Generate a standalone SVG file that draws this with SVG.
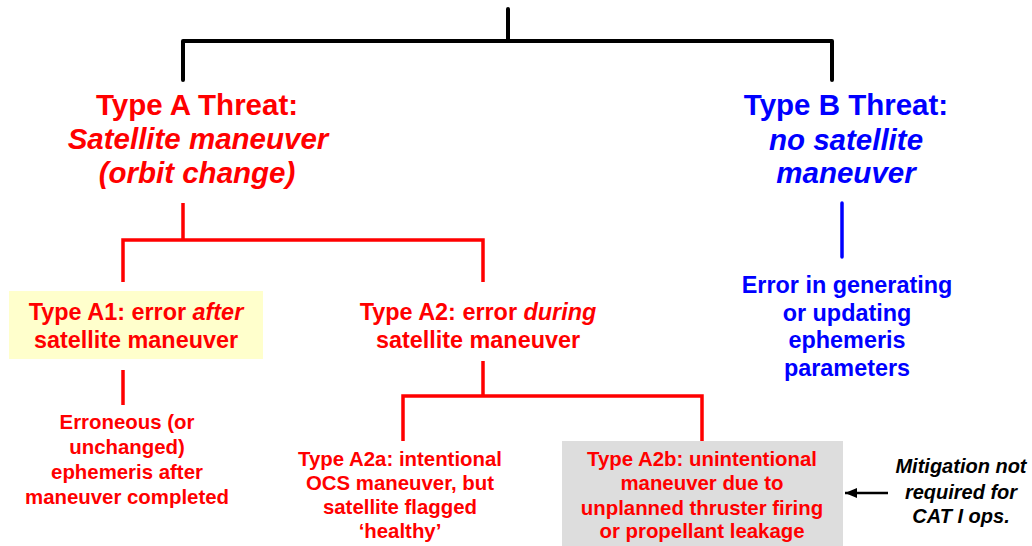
<svg xmlns="http://www.w3.org/2000/svg" width="1032" height="546" viewBox="0 0 1032 546">
<defs>
<style>
text{font-family:"Liberation Sans",Arial,sans-serif;font-weight:bold;text-anchor:middle}
.red{fill:#FF0000}
.blue{fill:#0000FF}
.blk{fill:#000000}
.t28{font-size:29.5px}
.t23{font-size:23.4px}
.t20{font-size:20.4px}
.t19{font-size:20px}
.it{font-style:italic}
.lk{fill:none;stroke:#000;stroke-width:4;stroke-linecap:round;stroke-linejoin:round}
.lr{fill:none;stroke:#FF0000;stroke-width:3.5;stroke-linejoin:miter}
.lb{fill:none;stroke:#0000FF;stroke-width:3.5;stroke-linecap:round}
</style>
<marker id="ah" markerWidth="12" markerHeight="10" refX="12" refY="5" orient="auto" markerUnits="userSpaceOnUse">
<path d="M0,0 L12,5 L0,10 Z" fill="#000"/>
</marker>
</defs>
<rect width="1032" height="546" fill="#fff"/>
<g id="connectors">
<path class="lk" d="M508,9 V41 M183,80 V41 H832 V80"/>
<path class="lr" d="M183,203 V240 M123,282 V240 H483 V282"/>
<path class="lr" d="M123,370 V405"/>
<path class="lr" d="M483,361 V396 M403,441 V396 H702 V441"/>
<path class="lb" d="M842,203 V257"/>
<line x1="888" y1="493" x2="845" y2="493" stroke="#000" stroke-width="2.5" marker-end="url(#ah)"/>
</g>
<g id="typeA">
<text class="red t28" x="197" y="115">Type A Threat:</text>
<text class="red t28 it" x="198" y="149">Satellite maneuver</text>
<text class="red t28 it" x="197" y="183">(orbit change)</text>
</g>
<g id="typeB">
<text class="blue t28" x="846" y="115">Type B Threat:</text>
<text class="blue t28 it" x="846" y="150">no satellite</text>
<text class="blue t28 it" x="846" y="183">maneuver</text>
</g>
<g id="typeA1">
<rect x="9" y="291" width="254" height="68" fill="#FFFFCC"/>
<text class="red t23" x="136" y="320">Type A1: error <tspan class="it">after</tspan></text>
<text class="red t23" x="136" y="348">satellite maneuver</text>
</g>
<g id="typeA2">
<text class="red t23" x="478" y="320">Type A2: error <tspan class="it">during</tspan></text>
<text class="red t23" x="478" y="348">satellite maneuver</text>
</g>
<g id="typeBdetail">
<text class="blue t23" x="847" y="293">Error in generating</text>
<text class="blue t23" x="847" y="321">or updating</text>
<text class="blue t23" x="847" y="348">ephemeris</text>
<text class="blue t23" x="847" y="376">parameters</text>
</g>
<g id="a1detail">
<text class="red t20" x="127" y="429">Erroneous (or</text>
<text class="red t20" x="127" y="454">unchanged)</text>
<text class="red t20" x="127" y="479">ephemeris after</text>
<text class="red t20" x="127" y="504">maneuver completed</text>
</g>
<g id="typeA2a">
<text class="red t20" x="400" y="466">Type A2a: intentional</text>
<text class="red t20" x="400" y="490">OCS maneuver, but</text>
<text class="red t20" x="400" y="514">satellite flagged</text>
<text class="red t20" x="400" y="538">‘healthy’</text>
</g>
<g id="typeA2b">
<rect x="562" y="441" width="281" height="110" fill="#DDDDDD"/>
<text class="red t20" x="702" y="466">Type A2b: unintentional</text>
<text class="red t20" x="702" y="490">maneuver due to</text>
<text class="red t20" x="702" y="515">unplanned thruster firing</text>
<text class="red t20" x="702" y="538">or propellant leakage</text>
</g>
<g id="mitigation">
<text class="blk t19 it" x="961" y="473">Mitigation not</text>
<text class="blk t19 it" x="961" y="499">required for</text>
<text class="blk t19 it" x="961" y="523">CAT I ops.</text>
</g>
</svg>
